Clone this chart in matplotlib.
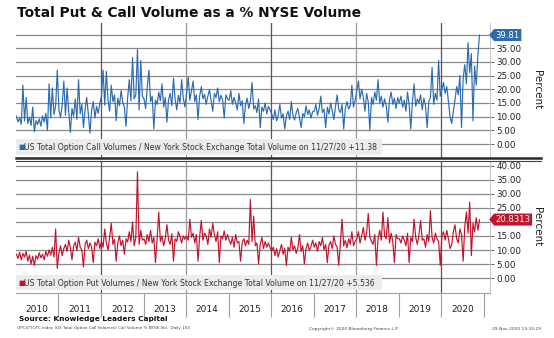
import matplotlib
matplotlib.use("Agg")
import matplotlib.pyplot as plt
from matplotlib.path import Path
from matplotlib.patches import Rectangle
from matplotlib.lines import Line2D
import pandas as pd

# Call volume as % of NYSE volume, roughly every two weeks, 2010 .. 27-Nov-2020
calls = [
    10.2, 8.1, 9.5, 7.2, 21.5, 8.4, 17.0, 7.5, 9.8, 6.8, 13.5, 4.5, 8.6, 7.1, 9.2, 6.5, 10.3, 8.0, 11.2, 5.0, 22.0, 9.5, 20.5, 10.8, 13.8, 27.0,
    12.5, 9.8, 14.0, 23.0, 10.5, 20.5, 11.8, 4.2, 13.0, 10.2, 16.5, 9.0, 23.5, 11.0, 14.5, 6.0, 12.8, 17.0, 10.8, 4.0, 12.5, 15.5, 9.5, 13.8, 11.2, 14.8,
    17.5, 27.0, 14.2, 26.5, 16.0, 12.0, 21.5, 15.5, 18.0, 8.5, 16.8, 14.0, 19.5, 15.2, 13.5, 6.5, 17.0, 23.5, 15.8, 31.5, 16.5, 18.0, 34.5, 12.5, 30.5, 17.5,
    16.5, 13.0, 21.0, 27.0, 15.5, 17.5, 5.5, 16.0, 14.5, 19.0, 15.8, 22.0, 13.5, 17.0, 8.0, 16.2, 18.5, 14.0, 24.0, 16.5, 12.5, 17.8, 15.0, 23.5, 16.8, 13.5,
    18.5, 24.5, 16.0, 19.5, 23.0, 15.5, 18.0, 9.0, 17.5, 21.0, 16.5, 18.2, 14.5, 17.5, 19.8, 16.0, 12.0, 18.5, 17.0, 20.5, 15.5, 17.8, 16.2, 9.5, 18.0, 16.5,
    16.0, 19.5, 14.5, 17.0, 15.0, 12.5, 18.5, 14.0, 15.8, 7.5, 14.5, 16.8, 13.0, 15.5, 22.5, 12.8, 14.0, 11.5, 16.5, 6.0, 13.5, 12.0, 15.0, 11.0, 13.8, 12.5,
    11.0, 9.0, 12.5, 8.5, 10.5, 14.5, 9.5, 11.0, 5.5, 10.2, 12.0, 9.0, 15.5, 10.5, 8.8, 11.5, 13.0, 9.5, 6.0, 11.2, 10.0, 14.0, 10.8, 12.5, 9.5, 11.8,
    12.0, 14.5, 10.5, 13.0, 17.5, 11.5, 12.8, 6.0, 13.5, 11.0, 15.0, 12.2, 9.0, 13.8, 18.0, 12.5, 11.5, 14.5, 5.5, 13.0, 15.5, 12.8, 14.0, 21.5, 13.5, 16.0,
    19.5, 23.0, 16.5, 20.0, 17.0, 12.0, 18.5, 15.5, 5.0, 17.0, 14.5, 19.0, 16.0, 23.5, 15.0, 17.5, 13.5, 16.5, 14.0, 8.0, 16.2, 19.0, 14.5, 16.8, 13.0, 17.0,
    15.0, 17.5, 13.5, 16.0, 12.0, 19.0, 14.5, 5.5, 15.5, 22.0, 13.8, 16.5, 15.0, 18.0, 12.5, 16.8, 14.0, 6.0, 15.5, 17.0, 28.0, 14.5, 18.5, 16.0, 30.5, 17.5,
    20.0, 22.5, 18.5, 21.0, 15.5, 10.0, 7.5, 12.0, 16.0, 21.0, 18.0, 25.0, 6.0, 24.0, 29.0, 22.0, 37.0, 26.0, 33.0, 8.5, 28.5, 21.5, 32.5, 39.81,
]

# Put volume as % of NYSE volume, same sampling
puts = [
    8.5, 7.0, 9.2, 6.5, 8.8, 7.5, 9.5, 6.0, 8.2, 5.0, 7.8, 4.5, 8.0, 6.8, 9.0, 7.2, 8.5, 6.5, 9.5, 7.8, 10.0, 8.2, 11.0, 7.5, 17.5, 3.5,
    9.0, 11.5, 8.0, 10.5, 12.0, 9.5, 13.5, 10.8, 6.5, 11.5, 12.8, 9.8, 14.5, 11.0, 10.0, 4.0, 12.0, 13.5, 10.5, 12.5, 11.0, 5.5, 12.8, 11.5, 14.0, 10.5,
    13.0, 11.0, 17.5, 12.5, 10.0, 14.5, 19.5, 12.0, 13.8, 6.0, 12.5, 15.0, 11.5, 13.5, 8.5, 14.0, 12.8, 16.5, 13.0, 20.0, 11.5, 14.5, 37.8, 12.0, 17.0, 13.5,
    14.0, 12.0, 15.5, 13.0, 17.0, 12.5, 14.5, 5.5, 13.8, 23.5, 13.0, 15.0, 11.5, 14.2, 19.0, 13.5, 12.0, 15.8, 6.0, 14.0, 13.0, 16.5, 14.8, 12.5, 15.0, 13.8,
    15.0, 13.5, 21.0, 14.5, 16.0, 12.5, 15.5, 6.0, 14.8, 20.5, 13.5, 16.0, 15.0, 12.0, 17.5, 14.5, 19.5, 15.5, 13.0, 16.5, 5.5, 15.0, 14.0, 16.8, 13.5, 15.5,
    13.5, 12.0, 14.5, 11.0, 15.5, 12.5, 13.0, 6.0, 12.8, 14.0, 11.5, 13.5, 12.0, 28.0, 13.0, 22.0, 11.5, 12.5, 5.0, 12.0, 14.5, 10.5, 13.0, 11.0, 12.5, 10.8,
    9.5, 11.0, 8.0, 10.5, 7.5, 9.8, 12.0, 8.5, 10.5, 4.5, 11.0, 9.5, 14.5, 10.0, 11.5, 8.8, 10.8, 15.5, 9.5, 11.5, 5.0, 10.5, 12.5, 9.8, 11.2, 13.5,
    11.0, 12.5, 9.5, 13.0, 11.5, 14.5, 10.0, 12.0, 5.5, 11.8, 13.0, 10.5, 15.0, 12.0, 11.0, 4.5, 12.5, 21.0, 11.5, 13.5, 10.8, 14.0, 12.0, 16.5, 11.5, 13.0,
    14.0, 16.5, 12.5, 15.0, 18.0, 13.5, 16.0, 23.0, 14.5, 13.0, 12.0, 15.5, 4.5, 14.0, 17.0, 13.5, 23.5, 15.0, 14.0, 21.5, 12.5, 16.0, 13.0, 5.5, 15.5, 14.0,
    14.0, 12.5, 15.0, 13.5, 11.5, 16.0, 5.5, 14.5, 13.0, 21.0, 14.5, 12.0, 15.5, 20.5, 13.5, 14.0, 11.0, 15.5, 13.0, 24.0, 14.5, 12.5, 16.0, 14.0, 13.0, 4.5,
    15.0, 16.5, 13.5, 17.0, 14.0, 10.5, 12.0, 16.5, 19.0, 14.0, 12.5, 17.5, 15.5, 6.0, 18.5, 23.5, 16.0, 27.0, 8.0, 19.5, 16.5, 21.5, 17.0, 20.8313,
]

years = list(range(2010, 2021))
call_legend = "US Total Option Call Volumes / New York Stock Exchange Total Volume on 11/27/20 +11.38"
put_legend = "US Total Option Put Volumes / New York Stock Exchange Total Volume on 11/27/20 +5.536"

BLUE = "#2b6cb0"
RED = "#c3132d"
W, H = 554, 338


def tag_box(x0, y0, width, height, mutation_size):
    # label box with a pointed left end, like the Bloomberg last-value tag
    pad = 0.18 * mutation_size
    x0 -= pad
    y0 -= pad
    width += 2 * pad
    height += 2 * pad
    x1, y1 = x0 + width, y0 + height
    return Path([(x0, y0), (x1, y0), (x1, y1), (x0, y1),
                 (x0 - height / 2.5, y0 + height / 2), (x0, y0)], closed=True)


def draw_panel(ax, values, color, legend, last_fmt, ticks, ylim):
    dates = pd.date_range("2010-01-04", "2020-11-27", periods=len(values))
    ax.plot(dates, values, color=color, lw=0.85, zorder=3)

    ax.set_xlim(pd.Timestamp("2010-01-01"), pd.Timestamp("2021-02-25"))
    ax.set_ylim(*ylim)

    # grid
    for v in range(0, 45, 5):
        ax.axhline(v, color="#8a8a8a", lw=0.9, zorder=1)
    for yr in (2012, 2014, 2016, 2018, 2020):
        c = "#555555" if yr in (2012, 2016, 2020) else "#9a9a9a"
        ax.axvline(pd.Timestamp(f"{yr}-01-01"), color=c, lw=0.9, zorder=1)

    # right-hand axis
    ax.yaxis.tick_right()
    ax.set_yticks(ticks)
    ax.set_yticklabels([f"{t:.2f}" for t in ticks])
    ax.tick_params(axis="y", direction="out", length=3, width=0.6, color="#555555",
                   labelsize=6.3, pad=1.5, labelcolor="#222222")
    for s in ("top", "left", "bottom"):
        ax.spines[s].set_visible(False)
    ax.spines["right"].set_color("#bbbbbb")
    ax.spines["right"].set_linewidth(0.6)

    # legend strip
    ax.add_patch(Rectangle((0, 0.02), 0.772, 0.115, transform=ax.transAxes,
                           facecolor="#ececec", edgecolor="none", zorder=4))
    ax.text(0.005, 0.075, "\u25a0", color=color, fontsize=5, transform=ax.transAxes,
            va="center", ha="left", zorder=5)
    ax.text(0.016, 0.075, legend, color="#333333", fontsize=5.6, transform=ax.transAxes,
            va="center", ha="left", zorder=5)

    # last value tag
    last = values[-1]
    ax.annotate(last_fmt.format(last), xy=(1.0, last), xycoords=("axes fraction", "data"),
                xytext=(4, 0), textcoords="offset points", va="center", ha="left",
                color="white", fontsize=6.1, annotation_clip=False, zorder=6,
                bbox=dict(boxstyle=tag_box, facecolor=color, edgecolor="none"))


fig = plt.figure(figsize=(W / 100, H / 100), dpi=100)

ax1 = fig.add_axes([16 / W, 1 - 157.5 / H, 474 / W, 134.5 / H])
ax2 = fig.add_axes([16 / W, 1 - 293 / H, 474 / W, 131.5 / H])

draw_panel(ax1, calls, BLUE, call_legend, "{:.2f}", [0, 5, 10, 15, 20, 25, 30, 35], (-4.9, 44.2))
draw_panel(ax2, puts, RED, put_legend, "{:.4f}", [0, 5, 10, 15, 25, 30, 35, 40], (-5.3, 41.5))

ax1.set_xticks([])
# bottom panel: year labels centred in each year, separators at year boundaries
ax2.set_xticks([pd.Timestamp(f"{y}-07-02") for y in years])
ax2.set_xticklabels([str(y) for y in years])
ax2.set_xticks([pd.Timestamp(f"{y}-01-01") for y in years[1:] + [2021]], minor=True)
ax2.tick_params(axis="x", which="major", length=0, labelsize=6.5, pad=9, labelcolor="#222222")
ax2.tick_params(axis="x", which="minor", length=17, width=0.8, color="#a0a0a0", direction="out")
ax2.spines["bottom"].set_visible(True)
ax2.spines["bottom"].set_color("#a0a0a0")
ax2.spines["bottom"].set_linewidth(0.8)

# double separator between the panels
fig.add_artist(Line2D([16 / W, 541 / W], [1 - 157.8 / H] * 2, color="#2a2a2a", lw=1.8))
fig.add_artist(Line2D([16 / W, 541 / W], [1 - 161.5 / H] * 2, color="#444444", lw=0.8))

fig.text(537 / W, 1 - 90 / H, "Percent", rotation=270, ha="center", va="center", fontsize=7.5, color="#222222")
fig.text(537 / W, 1 - 227 / H, "Percent", rotation=270, ha="center", va="center", fontsize=7.5, color="#222222")

fig.text(17 / W, 1 - 13 / H, "Total Put & Call Volume as a % NYSE Volume", fontsize=9.9,
         fontweight="bold", ha="left", va="center", color="#111111")
fig.text(19 / W, 1 - 319 / H, "Source: Knowledge Leaders Capital", fontsize=5.3,
         fontweight="bold", ha="left", va="center", color="#111111")
fig.text(17 / W, 1 - 328.5 / H, "OPCV/TOTC Index (US Total Option Call Volumes) Call Volume % NYSE Vol.  Daily 1S3",
         fontsize=3, ha="left", va="center", color="#444444")
fig.text(354 / W, 1 - 329 / H, "Copyright\u00a9 2020 Bloomberg Finance L.P.", fontsize=3.2,
         ha="center", va="center", color="#444444")
fig.text(541 / W, 1 - 329 / H, "29-Nov-2020 13:32:29", fontsize=3.2, ha="right", va="center", color="#444444")

fig.savefig("out.png", dpi=100)
